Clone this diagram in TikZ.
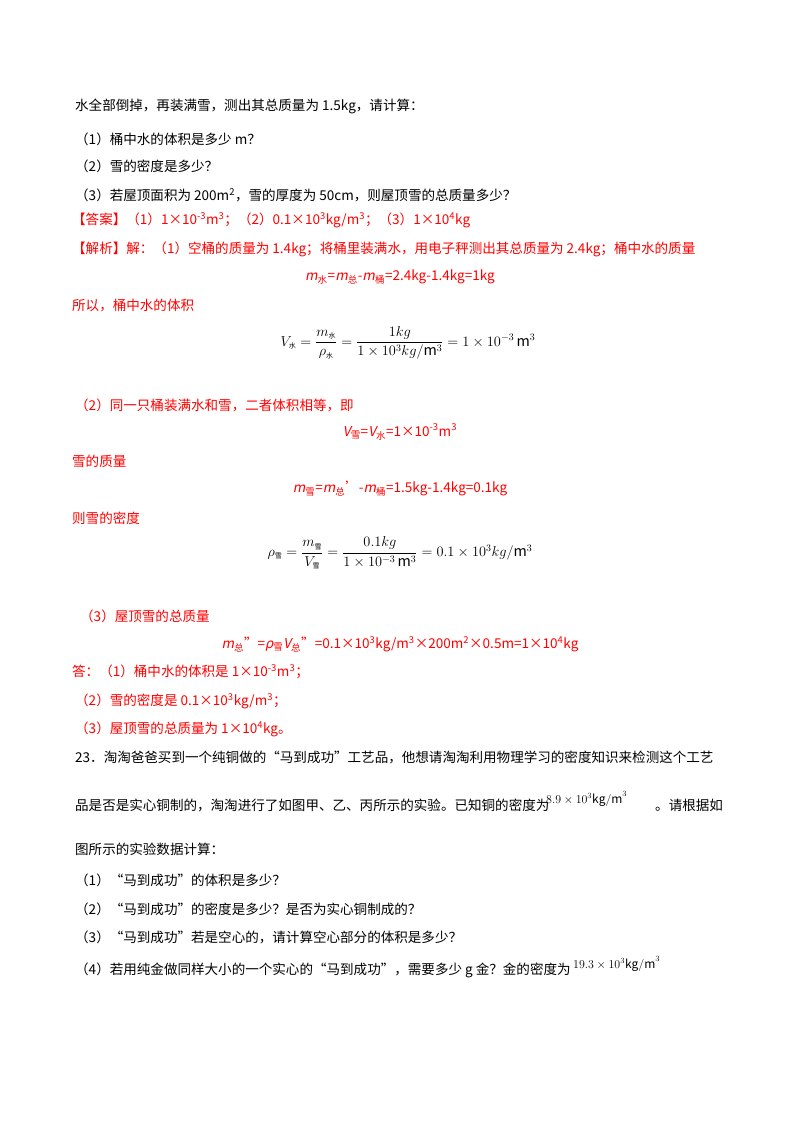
\documentclass[tikz,border=0pt]{standalone}
\usepackage{amsmath}
\usepackage{fontspec}
\setmainfont{Noto Sans CJK SC}[ItalicFont=Noto Sans CJK SC, ItalicFeatures={FakeSlant=0.2}]
\usepackage{tikz}

\newcommand{\sub}[1]{\textsubscript{#1}}
\newcommand{\sups}[1]{\textsuperscript{#1}}
\newcommand{\tsub}[1]{\text{\fontsize{7}{7}\selectfont #1}}

\begin{document}
\begin{tikzpicture}
	[x=1bp,y=-1bp,
		line/.style={anchor=west,inner sep=0pt,font=\fontsize{13.6}{15}\selectfont},
		ans/.style={line,text=red},
		eq/.style={inner sep=0pt,font=\fontsize{13.6}{15}\selectfont,text=red},
		formula/.style={inner sep=0pt,font=\Large}]

	\useasboundingbox[fill=white] (0,0) rectangle (800,1132);

	% question text
	\node[line] (q0) at (75,106) {水全部倒掉，再装满雪，测出其总质量为 1.5kg，请计算：};
	\node[line] (q1) at (75,139) {（1）桶中水的体积是多少 m？};
	\node[line] (q2) at (75,166) {（2）雪的密度是多少？};
	\node[line] (q3) at (75,195) {（3）若屋顶面积为 200m\sups{2}，雪的厚度为 50cm，则屋顶雪的总质量多少？};

	% answer
	\node[ans] (a0) at (72,220) {【答案】（1）1×10\sups{-3}m\sups{3}；（2）0.1×10\sups{3}kg/m\sups{3}；（3）1×10\sups{4}kg};
	\node[ans] (a1) at (72,249) {【解析】解：（1）空桶的质量为 1.4kg；将桶里装满水，用电子秤测出其总质量为 2.4kg；桶中水的质量};
	\node[eq] (e1) at (400,277) {\textit{m}\sub{水}=\textit{m}\sub{总}-\textit{m}\sub{桶}=2.4kg-1.4kg=1kg};
	\node[ans] (a2) at (72,306) {所以，桶中水的体积};
	\node[formula] (f1) at (408,343) {$V_{\tsub{水}}=\dfrac{m_{\tsub{水}}}{\rho_{\tsub{水}}}=\dfrac{1kg}{1\times10^{3}kg/\mathrm{m}^{3}}=1\times10^{-3}\,\mathrm{m}^{3}$};

	\node[ans] (a3) at (75,405) {（2）同一只桶装满水和雪，二者体积相等，即};
	\node[eq] (e2) at (400,432) {\textit{V}\sub{雪}=\textit{V}\sub{水}=1×10\sups{-3}m\sups{3}};
	\node[ans] (a4) at (72,461) {雪的质量};
	\node[eq] (e3) at (400,489) {\textit{m}\sub{雪}=\textit{m}\sub{总}'-\textit{m}\sub{桶}=1.5kg-1.4kg=0.1kg};
	\node[ans] (a5) at (72,518) {则雪的密度};
	\node[formula] (f2) at (400,553) {$\rho_{\tsub{雪}}=\dfrac{m_{\tsub{雪}}}{V_{\tsub{雪}}}=\dfrac{0.1kg}{1\times10^{-3}\,\mathrm{m}^{3}}=0.1\times10^{3}kg/\mathrm{m}^{3}$};

	\node[ans] (a6) at (80,616) {（3）屋顶雪的总质量};
	\node[eq] (e4) at (400,644) {\textit{m}\sub{总}''=\textit{ρ}\sub{雪}\textit{V}\sub{总}''=0.1×10\sups{3}kg/m\sups{3}×200m\sups{2}×0.5m=1×10\sups{4}kg};
	\node[ans] (a7) at (72,672) {答：（1）桶中水的体积是 1×10\sups{-3}m\sups{3}；};
	\node[ans] (a8) at (75,701) {（2）雪的密度是 0.1×10\sups{3}kg/m\sups{3}；};
	\node[ans] (a9) at (75,729) {（3）屋顶雪的总质量为 1×10\sups{4}kg。};

	% next question
	\node[line] (p0) at (75,757) {23．淘淘爸爸买到一个纯铜做的“马到成功”工艺品，他想请淘淘利用物理学习的密度知识来检测这个工艺};
	\node[line] (p1) at (75,805) {品是否是实心铜制的，淘淘进行了如图甲、乙、丙所示的实验。已知铜的密度为};
	\node[formula,anchor=west,font=\large] (r1) at (546,799) {$8.9\times10^{3}\mathrm{kg/m}^{3}$};
	\node[line] (p1b) at (655,805) {。请根据如};
	\node[line] (p2) at (75,849) {图所示的实验数据计算：};
	\node[line] (p3) at (75,880) {（1）“马到成功”的体积是多少？};
	\node[line] (p4) at (75,909) {（2）“马到成功”的密度是多少？是否为实心铜制成的？};
	\node[line] (p5) at (75,937) {（3）“马到成功”若是空心的，请计算空心部分的体积是多少？};
	\node[line] (p6) at (75,970) {（4）若用纯金做同样大小的一个实心的“马到成功”，需要多少 g 金？金的密度为};
	\node[formula,anchor=west,font=\large] (r2) at (573,964) {$19.3\times10^{3}\mathrm{kg/m}^{3}$};

\end{tikzpicture}
\end{document}
